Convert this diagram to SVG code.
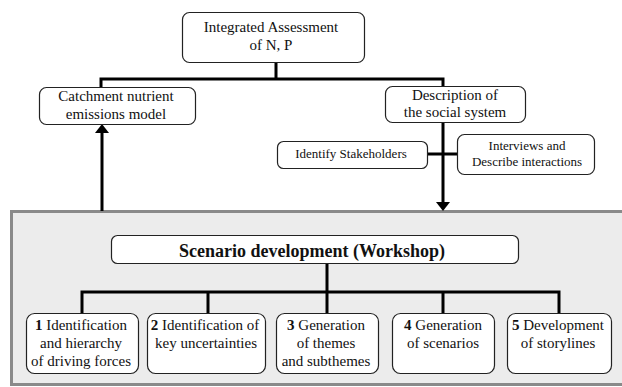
<svg xmlns="http://www.w3.org/2000/svg" width="622" height="387" viewBox="0 0 622 387">
<style>
.box{fill:#fff;stroke:#222;stroke-width:1.2}
.t{font-family:"Liberation Serif","Times New Roman",serif;font-size:15px;fill:#111;text-anchor:middle}
.s{font-size:13px}
.b{font-weight:bold}
.ln{fill:none;stroke:#000;stroke-width:3}
</style>
<rect width="622" height="387" fill="#fff"/>
<rect id="panel" x="11.5" y="211.5" width="630" height="173" fill="#ececec" stroke="#8a8a8a" stroke-width="3"/>
<g id="connectors">
<path class="ln" d="M276 62V79M101 88V79H443V86M443 122V203M427 154H457"/>
<path class="ln" d="M102 211V132"/>
<polygon points="102,124 95,133 109,133" fill="#000"/>
<polygon points="443,211 436,202 450,202" fill="#000"/>
<path class="ln" d="M327 263V292M82 313V292H559V313M208 292V313M327 292V313M443 292V313"/>
</g>
<g id="top"><rect class="box" x="182.5" y="12.5" width="182" height="50" rx="7"/>
<text class="t" x="271" y="32">Integrated Assessment</text><text class="t" x="271" y="50">of N, P</text></g>
<g id="catchment"><rect class="box" x="39.5" y="87.5" width="156" height="37" rx="7"/>
<text class="t" x="116" y="101">Catchment nutrient</text><text class="t" x="116" y="119">emissions model</text></g>
<g id="social"><rect class="box" x="385.5" y="86.5" width="140" height="36" rx="7"/>
<text class="t" x="455" y="100">Description of</text><text class="t" x="455" y="117">the social system</text></g>
<g id="stakeholders"><rect class="box" x="277.5" y="141.5" width="150" height="27" rx="6"/>
<text class="t s" x="351" y="158">Identify Stakeholders</text></g>
<g id="interviews"><rect class="box" x="457.5" y="134.5" width="137" height="40" rx="7"/>
<text class="t s" x="527" y="150">Interviews and</text><text class="t s" x="527" y="166">Describe interactions</text></g>
<g id="scenario"><rect class="box" x="111.5" y="235.5" width="407" height="28" rx="6"/>
<text class="t b" x="312" y="257" style="font-size:18px">Scenario development (Workshop)</text></g>
<g id="step1"><rect class="box" x="26.5" y="313.5" width="112" height="60" rx="8"/>
<text class="t" x="81" y="330"><tspan font-weight="bold">1</tspan> Identification</text><text class="t" x="81" y="348">and hierarchy</text><text class="t" x="81" y="366">of driving forces</text></g>
<g id="step2"><rect class="box" x="147.5" y="313.5" width="118" height="60" rx="8"/>
<text class="t" x="205" y="330"><tspan font-weight="bold">2</tspan> Identification of</text><text class="t" x="206" y="348">key uncertainties</text></g>
<g id="step3"><rect class="box" x="276.5" y="313.5" width="102" height="60" rx="8"/>
<text class="t" x="326" y="330"><tspan font-weight="bold">3</tspan> Generation</text><text class="t" x="326" y="348">of themes</text><text class="t" x="326" y="366">and subthemes</text></g>
<g id="step4"><rect class="box" x="392.5" y="313.5" width="102" height="60" rx="8"/>
<text class="t" x="443" y="330"><tspan font-weight="bold">4</tspan> Generation</text><text class="t" x="443" y="348">of scenarios</text></g>
<g id="step5"><rect class="box" x="507.5" y="313.5" width="104" height="60" rx="8"/>
<text class="t" x="558" y="330"><tspan font-weight="bold">5</tspan> Development</text><text class="t" x="558" y="348">of storylines</text></g>
</svg>
